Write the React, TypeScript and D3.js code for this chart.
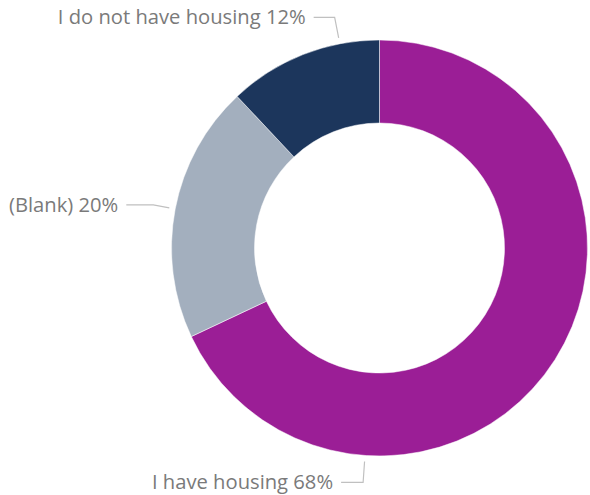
import React from "react";
import * as d3 from "d3";

const categories = ["I have housing", "(Blank)", "I do not have housing"];
const values = [68, 20, 12];
const colors = ["#9B1E96", "#A3AFBE", "#1C365C"];
// angle (degrees, clockwise from top) where each leader line touches the ring
const labelAngles = [184, 280.8, 349];
const W = 590;
const H = 495;

export default function App() {
  const cx = 379.5;
  const cy = 248;
  const outer = 208;
  const inner = 125;

  const pie = d3.pie<number>().sort(null).value((d) => d);
  const arcs = pie(values);
  const arc = d3.arc<d3.PieArcDatum<number>>().innerRadius(inner).outerRadius(outer);

  const total = d3.sum(values);

  return (
    <svg
      width={W}
      height={H}
      style={{ position: "absolute", left: 0, top: 0, background: "#fff" }}
    >
      <g transform={`translate(${cx},${cy})`}>
        {arcs.map((a, i) => (
          <path key={i} d={arc(a) || ""} fill={colors[i]} stroke="#fff" strokeWidth={0.5} />
        ))}
        {arcs.map((a, i) => {
          const ang = (labelAngles[i] * Math.PI) / 180;
          const r0 = outer + 6;
          const x0 = Math.sin(ang) * r0;
          const y0 = -Math.cos(ang) * r0;
          const r1 = outer + 27;
          let x1 = Math.sin(ang) * r1;
          let y1 = -Math.cos(ang) * r1;
          if (i === 1) {
            x1 = x0 - 16;
            y1 = y0 - 3;
          }
          const x2 = x1 - (i === 0 ? 22 : i === 1 ? 27 : 21);
          const pct = Math.round((values[i] / total) * 100);
          return (
            <g key={"l" + i}>
              <polyline
                points={`${x0},${y0} ${x1},${y1} ${x2},${y1}`}
                fill="none"
                stroke="#C0C0C0"
                strokeWidth={1.2}
              />
              <text
                x={x2 - 8}
                y={y1}
                dy="0.35em"
                textAnchor="end"
                fill="#7A7A7A"
                fontFamily="'Open Sans', sans-serif"
                fontSize={20.2}
              >
                {`${categories[i]} ${pct}%`}
              </text>
            </g>
          );
        })}
      </g>
    </svg>
  );
}
